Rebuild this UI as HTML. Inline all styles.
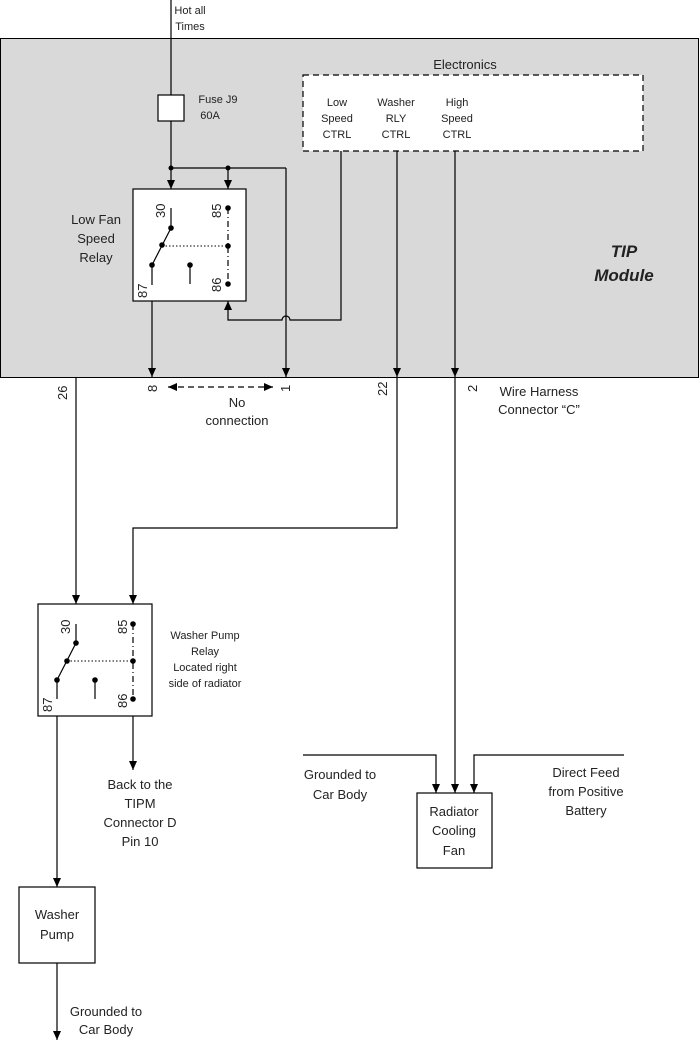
<!DOCTYPE html>
<html><head><style>html,body{margin:0;padding:0;background:#fff}svg{display:block}text{font-family:"Liberation Sans",sans-serif;fill:#222}</style></head><body>
<svg width="700" height="1060" viewBox="0 0 700 1060" xmlns="http://www.w3.org/2000/svg">
<defs><marker id="a" markerWidth="10" markerHeight="10" refX="9" refY="5" orient="auto" markerUnits="userSpaceOnUse"><path d="M0,1 L9,5 L0,9 z" fill="#000"/></marker></defs>
<rect x="0.5" y="38.5" width="698" height="339" fill="#d9d9d9" stroke="#000"/>
<g stroke="#000" fill="none" stroke-width="1.2">
<line x1="171" y1="0" x2="171" y2="95"/>
<rect x="158" y="95" width="26" height="26" fill="#fff"/>
<line x1="171" y1="121" x2="171" y2="168"/>
<line x1="171" y1="168" x2="286" y2="168"/>
<line x1="171" y1="168" x2="171" y2="189" marker-end="url(#a)"/>
<line x1="228" y1="168" x2="228" y2="189" marker-end="url(#a)"/>
<line x1="286" y1="168" x2="286" y2="377" marker-end="url(#a)"/>
<rect x="133" y="189" width="113" height="112" fill="#fff"/>
<line x1="171" y1="208" x2="171" y2="228"/>
<line x1="171" y1="228" x2="152" y2="265"/>
<line x1="152" y1="265" x2="152" y2="285"/>
<line x1="190" y1="265" x2="190" y2="284"/>
<line x1="162" y1="246" x2="228" y2="246" stroke-dasharray="1.5,2" stroke-width="1"/>
<line x1="228" y1="208" x2="228" y2="284" stroke-dasharray="6,3,1,3"/>
<line x1="152" y1="301" x2="152" y2="377" marker-end="url(#a)"/>
<path d="M341,151 V320 H290 A4,4 0 0 0 282,320 H228 V301" marker-end="url(#a)"/>
<rect x="303" y="75" width="340" height="76" fill="#fff" stroke-dasharray="6,4"/>
<line x1="397" y1="151" x2="397" y2="377" marker-end="url(#a)"/>
<line x1="455" y1="151" x2="455" y2="377" marker-end="url(#a)"/>
<line x1="168" y1="387" x2="273" y2="387" stroke-dasharray="6,4" marker-end="url(#a)" marker-start="url(#b)"/>
<line x1="76" y1="378" x2="76" y2="604" marker-end="url(#a)"/>
<path d="M397,378 V528 H133 V604" marker-end="url(#a)"/>
<rect x="38" y="604" width="114" height="112" fill="#fff"/>
<line x1="76" y1="624" x2="76" y2="643"/>
<line x1="76" y1="643" x2="57" y2="680"/>
<line x1="57" y1="680" x2="57" y2="699"/>
<line x1="95" y1="680" x2="95" y2="699"/>
<line x1="67" y1="661" x2="133" y2="661" stroke-dasharray="1.5,2" stroke-width="1"/>
<line x1="133" y1="624" x2="133" y2="699" stroke-dasharray="6,3,1,3"/>
<line x1="57" y1="716" x2="57" y2="887" marker-end="url(#a)"/>
<line x1="133" y1="716" x2="133" y2="770" marker-end="url(#a)"/>
<rect x="19" y="887" width="76" height="76" fill="#fff"/>
<line x1="57" y1="963" x2="57" y2="1040" marker-end="url(#a)"/>
<line x1="455" y1="378" x2="455" y2="793" marker-end="url(#a)"/>
<path d="M303,755 H436 V793" marker-end="url(#a)"/>
<path d="M624,755 H474 V793" marker-end="url(#a)"/>
<rect x="417" y="793" width="75" height="75" fill="#fff"/>
</g>
<path d="M168,387 l9,-4 v8 z" fill="#000"/>
<g fill="#000">
<circle cx="171" cy="168" r="2.5"/><circle cx="228" cy="168" r="2.5"/>
<circle cx="171" cy="228" r="2.8"/><circle cx="162" cy="245" r="2.8"/><circle cx="152" cy="265" r="2.8"/><circle cx="190" cy="265" r="2.8"/>
<circle cx="228" cy="208" r="2.8"/><circle cx="228" cy="246" r="2.8"/><circle cx="228" cy="284" r="2.8"/>
<circle cx="76" cy="643" r="2.8"/><circle cx="67" cy="661" r="2.8"/><circle cx="57" cy="680" r="2.8"/><circle cx="95" cy="680" r="2.8"/>
<circle cx="133" cy="624" r="2.8"/><circle cx="133" cy="661" r="2.8"/><circle cx="133" cy="699" r="2.8"/>
</g>
<g font-size="11" text-anchor="middle">
<text x="190" y="14">Hot all</text><text x="190" y="30">Times</text>
<text x="218" y="103">Fuse J9</text><text x="210" y="119">60A</text>
<text x="337" y="106">Low</text><text x="337" y="122">Speed</text><text x="337" y="138">CTRL</text>
<text x="396" y="106">Washer</text><text x="396" y="122">RLY</text><text x="396" y="138">CTRL</text>
<text x="457" y="106">High</text><text x="457" y="122">Speed</text><text x="457" y="138">CTRL</text>
<text x="205" y="639">Washer Pump</text><text x="205" y="655">Relay</text><text x="205" y="671">Located right</text><text x="205" y="687">side of radiator</text>
</g>
<g font-size="13" text-anchor="middle">
<text x="465" y="69">Electronics</text>
<text x="96" y="224">Low Fan</text><text x="96" y="243">Speed</text><text x="96" y="262">Relay</text>
<text x="237" y="407">No</text><text x="237" y="425">connection</text>
<text x="539" y="396">Wire Harness</text><text x="539" y="414">Connector “C”</text>
<text x="140" y="789">Back to the</text><text x="140" y="808">TIPM</text><text x="140" y="827">Connector D</text><text x="140" y="846">Pin 10</text>
<text x="57" y="919">Washer</text><text x="57" y="939">Pump</text>
<text x="106" y="1016">Grounded to</text><text x="106" y="1034">Car Body</text>
<text x="340" y="779">Grounded to</text><text x="340" y="799">Car Body</text>
<text x="586" y="777">Direct Feed</text><text x="586" y="796">from Positive</text><text x="586" y="815">Battery</text>
<text x="454" y="816">Radiator</text><text x="454" y="835">Cooling</text><text x="454" y="855">Fan</text>
</g>
<g font-size="17" font-weight="bold" font-style="italic" text-anchor="middle"><text x="624" y="257">TIP</text><text x="624" y="281">Module</text></g>
<g font-size="13">
<text transform="translate(165,218) rotate(-90)">30</text>
<text transform="translate(221,218) rotate(-90)">85</text>
<text transform="translate(147,298) rotate(-90)">87</text>
<text transform="translate(221,292) rotate(-90)">86</text>
<text transform="translate(70,634) rotate(-90)">30</text>
<text transform="translate(127,634) rotate(-90)">85</text>
<text transform="translate(52,712) rotate(-90)">87</text>
<text transform="translate(127,708) rotate(-90)">86</text>
<text transform="translate(67,400) rotate(-90)">26</text>
<text transform="translate(157,392) rotate(-90)">8</text>
<text transform="translate(290,392) rotate(-90)">1</text>
<text transform="translate(387,396) rotate(-90)">22</text>
<text transform="translate(477,392) rotate(-90)">2</text>
</g>
</svg>
</body></html>
